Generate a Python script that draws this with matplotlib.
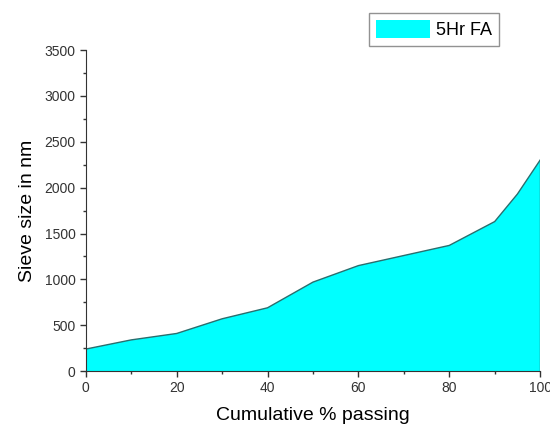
import matplotlib
matplotlib.use("Agg")
import matplotlib.pyplot as plt
from matplotlib.ticker import MultipleLocator

plt.rcParams['font.family'] = ['Liberation Sans', 'DejaVu Sans']

passing = [0, 10, 20, 30, 40, 50, 60, 70, 80, 90, 95, 100]
size_nm = [240, 340, 410, 570, 690, 970, 1150, 1260, 1370, 1630, 1930, 2300]
series_label = "5Hr FA"

fig = plt.figure(figsize=(5.5, 4.28), dpi=100)
ax = fig.add_axes([0.156, 0.133, 0.826, 0.750])

ax.fill_between(passing, 0, size_nm, facecolor='#00FFFF', edgecolor='none', label=series_label)
ax.plot(passing, size_nm, color='#2a6e6e', lw=1.0)
ax.plot([passing[-1], passing[-1]], [0, size_nm[-1]], color='#2a6e6e', lw=1.0)

ax.set_xlim(0, 100)
ax.set_ylim(0, 3500)
ax.xaxis.set_major_locator(MultipleLocator(20))
ax.xaxis.set_minor_locator(MultipleLocator(10))
ax.yaxis.set_major_locator(MultipleLocator(500))
ax.yaxis.set_minor_locator(MultipleLocator(250))
for s in ['top', 'right']:
    ax.spines[s].set_visible(False)
for s in ['left', 'bottom']:
    ax.spines[s].set_color('#333333')
ax.tick_params(which='major', direction='out', length=4, width=1, colors='#333333', labelsize=10, labelcolor='#333333')
ax.tick_params(which='minor', direction='out', length=2.5, width=1, colors='#333333')
ax.set_xlabel("Cumulative % passing", fontsize=14, labelpad=8)
ax.set_ylabel("Sieve size in nm", fontsize=14, labelpad=6)

leg = fig.legend(loc='upper left', bbox_to_anchor=(360/550, 1 - 4/428), frameon=True,
                 fancybox=False, edgecolor='#777777', fontsize=13, handlelength=3.0,
                 handleheight=1.1, borderpad=0.4, handletextpad=0.3)
leg.get_frame().set_linewidth(1.0)

fig.savefig("out.png", dpi=100)
